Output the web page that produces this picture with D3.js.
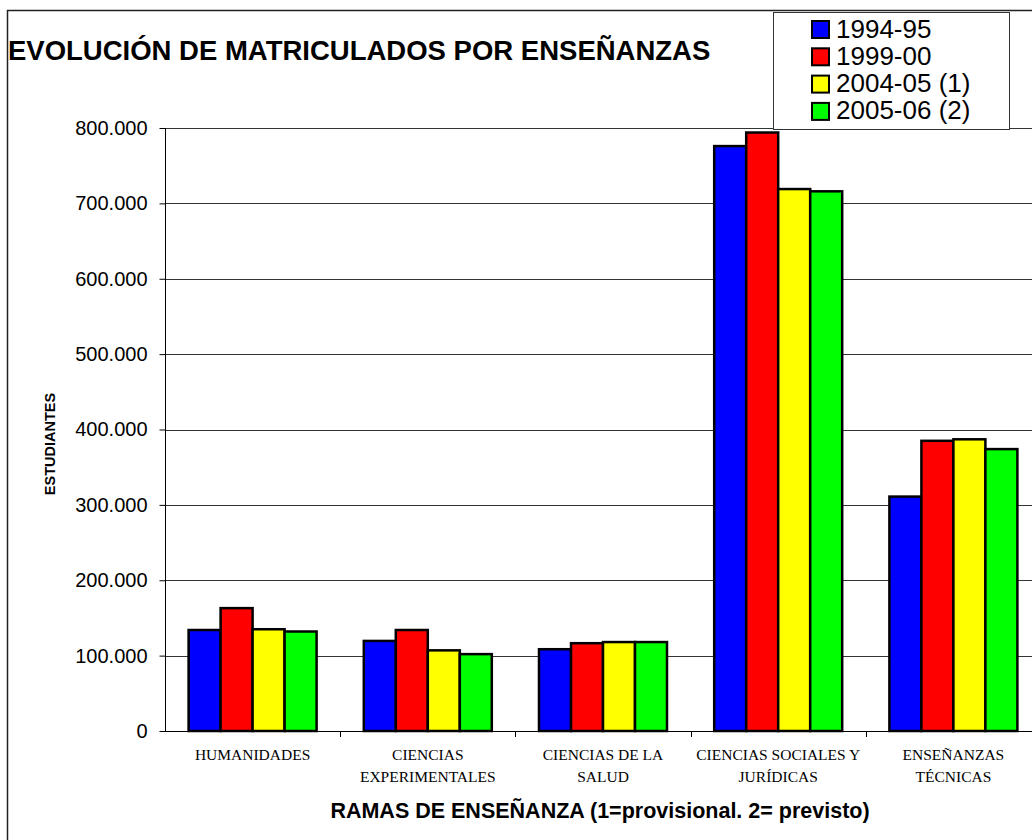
<!DOCTYPE html>
<html>
<head>
<meta charset="utf-8">
<script src="https://cdnjs.cloudflare.com/ajax/libs/d3/7.8.5/d3.min.js"></script>
<style>
  body { margin: 0; background: #fff; }
  svg { display: block; }
</style>
</head>
<body>
<svg id="chart" width="1032" height="840"></svg>
<script>
// data
var categories = [
    ["HUMANIDADES"],
    ["CIENCIAS", "EXPERIMENTALES"],
    ["CIENCIAS DE LA", "SALUD"],
    ["CIENCIAS SOCIALES Y", "JURÍDICAS"],
    ["ENSEÑANZAS", "TÉCNICAS"]
];
var seriesNames = ["1994-95", "1999-00", "2004-05 (1)", "2005-06 (2)"];
var seriesColors = ["#0000ff", "#ff0000", "#ffff00", "#00ff00"];
var v1994 = [134000, 119500, 108500, 776000, 311000];
var v1999 = [163000, 134000, 116500, 794000, 385000];
var v2004 = [135000, 107000, 118000, 719000, 387000];
var v2005 = [132000, 102000, 118000, 716000, 374000];
var yTicks = [0, 100000, 200000, 300000, 400000, 500000, 600000, 700000, 800000];

var values = [v1994, v1999, v2004, v2005];

var PLOT_L = 165, PLOT_R = 1041, PLOT_T = 128, PLOT_B = 731;
var GROUP_W = 128;

var svg = d3.select("#chart");
var loc = d3.formatLocale({decimal: ",", thousands: ".", grouping: [3], currency: ["", ""]});
var fmt = loc.format(",d");

// outer frame
svg.append("rect")
    .attr("x", 7.5).attr("y", 10.5)
    .attr("width", 1100).attr("height", 1000)
    .style("fill", "none").style("stroke", "#222").style("stroke-width", 1.5);

var catIdx = d3.range(categories.length);
var x0 = d3.scaleBand().domain(catIdx).range([PLOT_L, PLOT_R]).padding(0);
var x1 = d3.scaleBand().domain(d3.range(seriesNames.length)).range([0, GROUP_W]).padding(0);
var y = d3.scaleLinear().domain([0, 800000]).range([PLOT_B, PLOT_T]);

// gridlines
svg.append("g").selectAll("line")
    .data(yTicks.filter(function(d) { return d > 0; }))
    .enter().append("line")
    .attr("x1", PLOT_L).attr("x2", 1032)
    .attr("y1", function(d) { return Math.round(y(d)) + 0.5; })
    .attr("y2", function(d) { return Math.round(y(d)) + 0.5; })
    .style("stroke", "#333").style("stroke-width", 1);

// y axis
var yAxis = svg.append("g")
    .attr("transform", "translate(" + (PLOT_L + 0.5) + ",0)")
    .call(d3.axisLeft(y).tickValues(yTicks).tickFormat(fmt).tickSize(6).tickPadding(12));
yAxis.select(".domain").style("stroke", "#000").attr("d", "M0," + PLOT_T + "V" + PLOT_B);
yAxis.selectAll(".tick line").style("stroke", "#000");
yAxis.selectAll("text")
    .style("font-family", "Arial, 'Liberation Sans', sans-serif")
    .style("font-size", "20px").style("fill", "#000");

// bars
var g = svg.append("g");
values.forEach(function(vals, s) {
    g.selectAll(".bar" + s)
        .data(vals)
        .enter().append("rect")
        .attr("x", function(d, i) { return x0(i) + (x0.bandwidth() - GROUP_W) / 2 + x1(s); })
        .attr("y", function(d) { return y(d); })
        .attr("width", x1.bandwidth())
        .attr("height", function(d) { return PLOT_B - y(d); })
        .style("fill", seriesColors[s])
        .style("stroke", "#000").style("stroke-width", 2.5);
});

// x axis line and ticks
svg.append("line")
    .attr("x1", PLOT_L).attr("x2", 1032)
    .attr("y1", PLOT_B + 0.5).attr("y2", PLOT_B + 0.5)
    .style("stroke", "#000").style("stroke-width", 1);
svg.append("g").selectAll("line")
    .data(catIdx.slice(1))
    .enter().append("line")
    .attr("x1", function(i) { return Math.round(x0(i)) + 0.5; })
    .attr("x2", function(i) { return Math.round(x0(i)) + 0.5; })
    .attr("y1", PLOT_B).attr("y2", PLOT_B + 6)
    .style("stroke", "#000");

// category labels
var labels = svg.append("g").selectAll("text")
    .data(categories)
    .enter().append("text")
    .attr("text-anchor", "middle")
    .style("font-family", "'Times New Roman', 'Liberation Serif', serif")
    .style("font-size", "15.5px").style("fill", "#000");
labels.selectAll("tspan")
    .data(function(d, i) { return d.map(function(t) { return {t: t, i: i}; }); })
    .enter().append("tspan")
    .attr("x", function(d) { return x0(d.i) + x0.bandwidth() / 2; })
    .attr("y", function(d, j) { return 760 + j * 22; })
    .text(function(d) { return d.t; });

// titles
svg.append("text")
    .attr("x", 8).attr("y", 60)
    .style("font-family", "Arial, 'Liberation Sans', sans-serif")
    .style("font-weight", "bold").style("font-size", "27.5px")
    .text("EVOLUCIÓN DE MATRICULADOS POR ENSEÑANZAS");

svg.append("text")
    .attr("x", 600).attr("y", 818)
    .attr("text-anchor", "middle")
    .style("font-family", "Arial, 'Liberation Sans', sans-serif")
    .style("font-weight", "bold").style("font-size", "21.5px")
    .text("RAMAS DE ENSEÑANZA (1=provisional. 2= previsto)");

svg.append("text")
    .attr("transform", "translate(55,444) rotate(-90)")
    .attr("text-anchor", "middle")
    .style("font-family", "Arial, 'Liberation Sans', sans-serif")
    .style("font-weight", "bold").style("font-size", "14.5px")
    .text("ESTUDIANTES");

// legend
var leg = svg.append("g");
leg.append("rect")
    .attr("x", 773.5).attr("y", 12.5).attr("width", 236).attr("height", 117)
    .style("fill", "#fff").style("stroke", "#333").style("stroke-width", 1);
var items = leg.selectAll(".item")
    .data(seriesNames)
    .enter().append("g")
    .attr("transform", function(d, i) { return "translate(812," + (21 + i * 27.3) + ")"; });
items.append("rect")
    .attr("width", 17).attr("height", 17)
    .style("fill", function(d, i) { return seriesColors[i]; })
    .style("stroke", "#000").style("stroke-width", 2);
items.append("text")
    .attr("x", 24).attr("y", 16.5)
    .style("font-family", "Arial, 'Liberation Sans', sans-serif")
    .style("font-size", "26px")
    .text(function(d) { return d; });
</script>
</body>
</html>
